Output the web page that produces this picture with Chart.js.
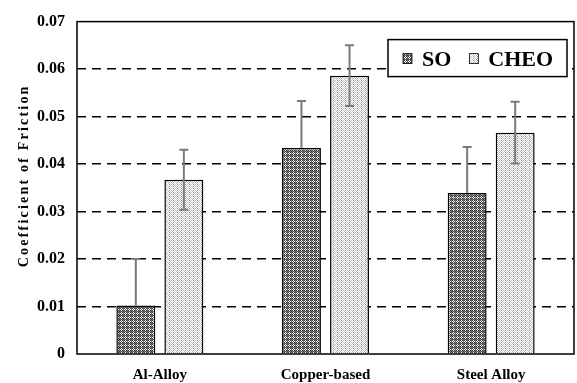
<!DOCTYPE html>
<html>
<head>
<meta charset="utf-8">
<script src="https://cdn.jsdelivr.net/npm/chart.js@4/dist/chart.umd.min.js"></script>
<style>
  html, body { margin: 0; padding: 0; background: #fff; }
  #wrap { width: 577px; height: 383px; position: relative; }
</style>
</head>
<body>
<div id="wrap"><canvas id="c" width="577" height="383"></canvas></div>
<script>
const categories = ['Al-Alloy', 'Copper-based', 'Steel Alloy'];
const seriesNames = ['SO', 'CHEO'];
const soValues = [0.0102, 0.0434, 0.0339];
const soErrors = [0.0098, 0.0099, 0.0097];
const cheoValues = [0.0367, 0.0586, 0.0466];
const cheoErrors = [0.0063, 0.0064, 0.0065];
const yTickLabels = ['0', '0.01', '0.02', '0.03', '0.04', '0.05', '0.06', '0.07'];

const FONT = "'Liberation Serif', 'Times New Roman', serif";

function makePattern(rows) {
  const n = rows.length;
  const off = document.createElement('canvas');
  off.width = rows[0].length; off.height = n;
  const cx = off.getContext('2d');
  rows.forEach((r, y) => r.forEach((col, x) => { cx.fillStyle = col; cx.fillRect(x, y, 1, 1); }));
  return document.getElementById('c').getContext('2d').createPattern(off, 'repeat');
}
const soPattern = makePattern([
  ['#333333', '#ffffff', '#333333', '#7a7a7a'],
  ['#ffffff', '#5a5a5a', '#ffffff', '#5a5a5a'],
  ['#333333', '#ffffff', '#333333', '#7a7a7a'],
  ['#7a7a7a', '#4a4a4a', '#7a7a7a', '#404040']
]);
const cheoPattern = makePattern([
  ['#ffffff', '#909090', '#ffffff', '#c8c8c8'],
  ['#dddddd', '#ffffff', '#b0b0b0', '#ffffff'],
  ['#ffffff', '#989898', '#ffffff', '#c8c8c8'],
  ['#bbbbbb', '#ffffff', '#dddddd', '#ffffff']
]);

const errorBars = {
  id: 'errorBars',
  afterDatasetsDraw(chart) {
    const ctx = chart.ctx;
    const ys = chart.scales.y;
    chart.data.datasets.forEach((ds, di) => {
      const meta = chart.getDatasetMeta(di);
      meta.data.forEach((bar, i) => {
        const v = ds.data[i], e = ds.errors[i];
        const top = ys.getPixelForValue(v + e);
        const bot = ds.errMode === 'both' ? ys.getPixelForValue(v - e) : ys.getPixelForValue(v);
        ctx.save();
        ctx.strokeStyle = '#7a7a7a';
        ctx.lineWidth = 2;
        ctx.beginPath();
        ctx.moveTo(bar.x, top); ctx.lineTo(bar.x, bot);
        ctx.moveTo(bar.x - 4.5, top); ctx.lineTo(bar.x + 4.5, top);
        if (ds.errMode === 'both') { ctx.moveTo(bar.x - 4.5, bot); ctx.lineTo(bar.x + 4.5, bot); }
        ctx.stroke();
        ctx.restore();
      });
    });
  }
};

const frameAndLegend = {
  id: 'frameAndLegend',
  afterDraw(chart) {
    const ctx = chart.ctx;
    const a = chart.chartArea;
    ctx.save();
    ctx.strokeStyle = '#000';
    ctx.lineWidth = 1.5;
    ctx.strokeRect(a.left, a.top, a.right - a.left, a.bottom - a.top);
    // legend box
    const bx = a.right - 186, by = a.top + 18, bw = 179, bh = 37;
    ctx.fillStyle = '#fff';
    ctx.fillRect(bx, by, bw, bh);
    ctx.lineWidth = 1.5;
    ctx.strokeRect(bx, by, bw, bh);
    ctx.font = 'bold 22px ' + FONT;
    ctx.textBaseline = 'alphabetic';
    let x = bx + 15;
    chart.data.datasets.forEach((ds) => {
      ctx.fillStyle = ds.backgroundColor;
      ctx.fillRect(x, by + 14, 9, 10);
      ctx.strokeStyle = '#000';
      ctx.lineWidth = 0.8;
      ctx.strokeRect(x, by + 14, 9, 10);
      ctx.fillStyle = '#000';
      ctx.fillText(ds.label, x + 19, by + 26);
      x += 19 + ctx.measureText(ds.label).width + 18;
    });
    ctx.restore();
  }
};

const chart = new Chart(document.getElementById('c'), {
  type: 'bar',
  data: {
    labels: categories,
    datasets: [
      { label: seriesNames[0], data: soValues, errors: soErrors, errMode: 'plus',
        backgroundColor: soPattern, borderColor: '#000', borderWidth: 1.5 },
      { label: seriesNames[1], data: cheoValues, errors: cheoErrors, errMode: 'both',
        backgroundColor: cheoPattern, borderColor: '#000', borderWidth: 1.5 }
    ]
  },
  options: {
    responsive: false,
    animation: false,
    devicePixelRatio: 1,
    categoryPercentage: 0.58,
    barPercentage: 0.81,
    layout: { padding: { top: 12, right: 3, left: 0, bottom: 0 } },
    plugins: { legend: { display: false }, tooltip: { enabled: false } },
    scales: {
      x: {
        grid: { display: false, drawTicks: false },
        border: { display: false },
        ticks: { color: '#000', font: { family: FONT, size: 15, weight: 'bold' }, padding: 12, maxRotation: 0 },
        afterFit(s) { s.height = 29; }
      },
      y: {
        min: 0, max: 0.07,
        grid: {
          drawTicks: false,
          color: (c) => (c.index === 0 || c.index === yTickLabels.length - 1) ? 'rgba(0,0,0,0)' : '#000',
          lineWidth: 1.5
        },
        border: { display: false, dash: [9, 6] },
        ticks: {
          stepSize: 0.01, color: '#000', padding: 12,
          font: { family: FONT, size: 16, weight: 'bold' },
          callback: (v, i) => yTickLabels[i]
        },
        title: {
          display: true, text: 'Coefficient of Friction', color: '#000',
          font: { family: FONT, size: 14, weight: 'bold' }, padding: { top: 16, bottom: 0 }
        },
        afterFit(s) { s.width = 77; }
      }
    }
  },
  plugins: [errorBars, frameAndLegend]
});

const ys = chart.scales.y;
const origDrawTitle = ys.drawTitle;
ys.drawTitle = function () {
  this.ctx.save();
  this.ctx.letterSpacing = '2.2px';
  this.ctx.translate(0, -12);
  origDrawTitle.call(this);
  this.ctx.restore();
};
chart.draw();
</script>
</body>
</html>
